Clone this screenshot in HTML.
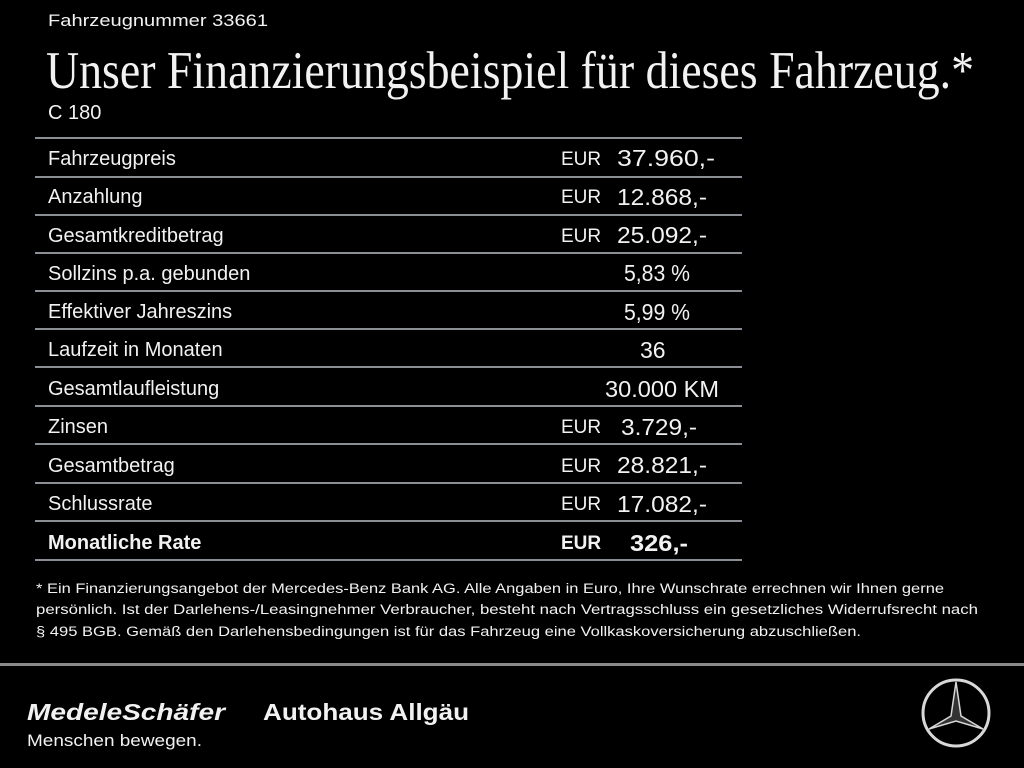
<!DOCTYPE html>
<html><head><meta charset="utf-8"><style>
html,body{margin:0;padding:0;background:#000;}
svg{display:block}
text{fill:#f2f2f2;font-family:"Liberation Sans",sans-serif;}
</style></head><body>
<svg width="1024" height="768" viewBox="0 0 1024 768">
<rect width="1024" height="768" fill="#000"/>
<text x="48" y="26" font-size="17" textLength="220" lengthAdjust="spacingAndGlyphs">Fahrzeugnummer 33661</text>
<text x="46" y="88" font-size="53" style="font-family:'Liberation Serif',serif" textLength="928" lengthAdjust="spacingAndGlyphs">Unser Finanzierungsbeispiel für dieses Fahrzeug.*</text>
<text x="48" y="119" font-size="20">C 180</text>
<g stroke="#8a8f96" stroke-width="2">
<line x1="35" y1="138" x2="742" y2="138"/>
<line x1="35" y1="177" x2="742" y2="177"/>
<line x1="35" y1="215" x2="742" y2="215"/>
<line x1="35" y1="253" x2="742" y2="253"/>
<line x1="35" y1="291" x2="742" y2="291"/>
<line x1="35" y1="329" x2="742" y2="329"/>
<line x1="35" y1="367" x2="742" y2="367"/>
<line x1="35" y1="406" x2="742" y2="406"/>
<line x1="35" y1="444" x2="742" y2="444"/>
<line x1="35" y1="483" x2="742" y2="483"/>
<line x1="35" y1="521" x2="742" y2="521"/>
<line x1="35" y1="560" x2="742" y2="560"/>
</g>
<g font-size="20">
<text x="48" y="165">Fahrzeugpreis</text>
<text x="48" y="203">Anzahlung</text>
<text x="48" y="242">Gesamtkreditbetrag</text>
<text x="48" y="280">Sollzins p.a. gebunden</text>
<text x="48" y="318">Effektiver Jahreszins</text>
<text x="48" y="356">Laufzeit in Monaten</text>
<text x="48" y="395">Gesamtlaufleistung</text>
<text x="48" y="433">Zinsen</text>
<text x="48" y="472">Gesamtbetrag</text>
<text x="48" y="510">Schlussrate</text>
<text x="48" y="549" font-weight="bold">Monatliche Rate</text>
</g>
<g font-size="19">
<text x="561" y="165">EUR</text>
<text x="561" y="203">EUR</text>
<text x="561" y="242">EUR</text>
<text x="561" y="433">EUR</text>
<text x="561" y="472">EUR</text>
<text x="561" y="510">EUR</text>
<text x="561" y="549" font-weight="bold">EUR</text>
</g>
<g font-size="23" lengthAdjust="spacingAndGlyphs">
<text x="617" y="166" textLength="98" lengthAdjust="spacingAndGlyphs">37.960,-</text>
<text x="617" y="205" textLength="90" lengthAdjust="spacingAndGlyphs">12.868,-</text>
<text x="617" y="243" textLength="90" lengthAdjust="spacingAndGlyphs">25.092,-</text>
<text x="624" y="281" textLength="66" lengthAdjust="spacingAndGlyphs">5,83 %</text>
<text x="624" y="320" textLength="66" lengthAdjust="spacingAndGlyphs">5,99 %</text>
<text x="640" y="358">36</text>
<text x="605" y="397" textLength="114" lengthAdjust="spacingAndGlyphs">30.000 KM</text>
<text x="621" y="435" textLength="76" lengthAdjust="spacingAndGlyphs">3.729,-</text>
<text x="617" y="473" textLength="90" lengthAdjust="spacingAndGlyphs">28.821,-</text>
<text x="617" y="512" textLength="90" lengthAdjust="spacingAndGlyphs">17.082,-</text>
<text x="630" y="551" font-weight="bold" textLength="58" lengthAdjust="spacingAndGlyphs">326,-</text>
</g>
<g font-size="13.5">
<text x="36" y="593" textLength="908" lengthAdjust="spacingAndGlyphs">* Ein Finanzierungsangebot der Mercedes-Benz Bank AG. Alle Angaben in Euro, Ihre Wunschrate errechnen wir Ihnen gerne</text>
<text x="36" y="614" textLength="942" lengthAdjust="spacingAndGlyphs">persönlich. Ist der Darlehens-/Leasingnehmer Verbraucher, besteht nach Vertragsschluss ein gesetzliches Widerrufsrecht nach</text>
<text x="36" y="636" textLength="825" lengthAdjust="spacingAndGlyphs">§ 495 BGB. Gemäß den Darlehensbedingungen ist für das Fahrzeug eine Vollkaskoversicherung abzuschließen.</text>
</g>
<rect x="0" y="663" width="1024" height="3" fill="#8a8a8a"/>
<text x="27" y="720" font-size="23" font-weight="bold" font-style="italic" textLength="198" lengthAdjust="spacingAndGlyphs">MedeleSchäfer</text>
<text x="263" y="720" font-size="23" font-weight="bold" textLength="206" lengthAdjust="spacingAndGlyphs">Autohaus Allgäu</text>
<text x="27" y="746" font-size="17" textLength="175" lengthAdjust="spacingAndGlyphs">Menschen bewegen.</text>
<g transform="translate(956,713)" stroke="#d8d8d8" fill="none">
<circle r="33" stroke-width="3"/>
<path d="M0,-31 L5,3 L27,16 L0,8 L-27,16 L-5,3 Z" stroke-width="1.5" fill="#333"/>
</g>
</svg>
</body></html>
